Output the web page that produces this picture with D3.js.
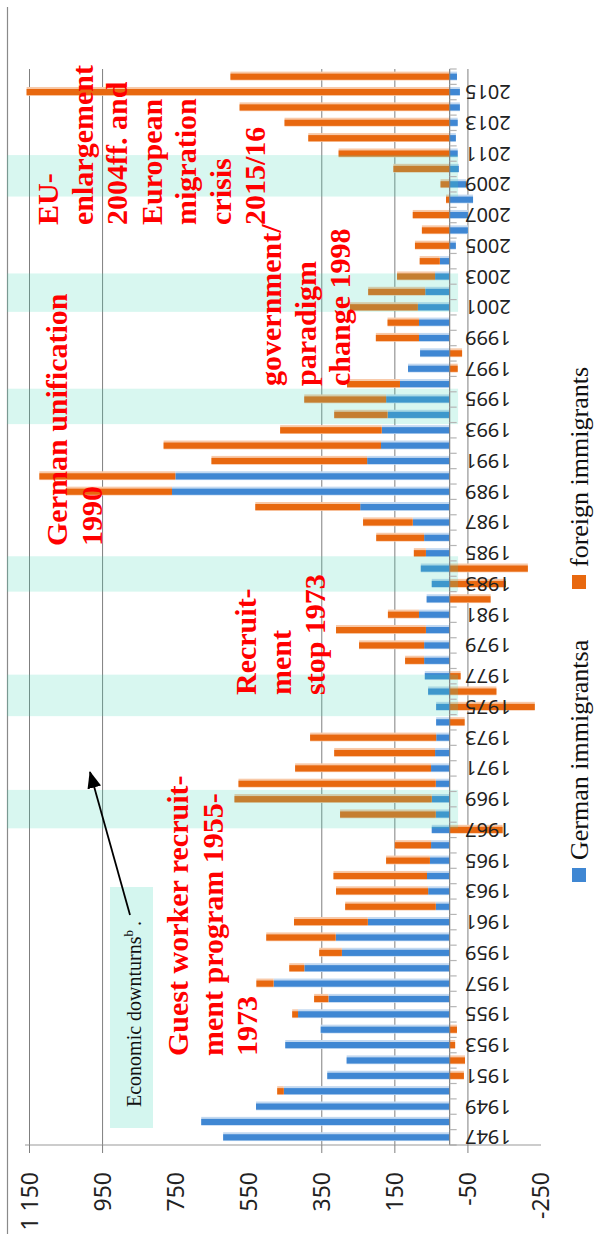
<!DOCTYPE html>
<html>
<head>
<meta charset="utf-8">
<title>Net migration Germany 1947-2016</title>
<script src="https://cdn.jsdelivr.net/npm/d3@7"></script>
<style>
  body { margin: 0; background: #fff; }
  .axis-label { font-family: "Noto Sans", sans-serif; font-size: 23px; fill: #222; }
  .year-label { font-family: "Noto Sans", sans-serif; font-size: 20px; fill: #222; }
  .note { font-family: "Liberation Serif", "Times New Roman", serif; font-weight: bold; font-size: 30px; fill: #f00; }
  .legend { font-family: "Liberation Serif", "Times New Roman", serif; font-size: 26px; fill: #111; }
  .box-text { font-family: "Liberation Serif", "Times New Roman", serif; font-size: 20px; fill: #111; }
</style>
</head>
<body>
<div id="chart"></div>
<script>
// net migration, thousands
const years = d3.range(1947, 2017);
const germanImmigrants = [
  620, 680, 530, 454, 335, 282, 450, 353, 415, 332,
  482, 398, 295, 312, 224, 38, 59, 62, 54, 51,
  49, 38, 49, 38, 51, 40, 37, 37, 37, 59,
  68, 70, 70, 65, 84, 63, 49, 79, 65, 70,
  101, 245, 760, 751, 226, 188, 186, 170, 174, 136,
  114, 81, 84, 84, 87, 67, 40, 27, -17, -50,
  -50, -64, -45, -25, -22, -17, -22, -28, -28, -20
];
const foreignImmigrants = [
  0, 0, 0, 18, -39, -42, -15, -20, 16, 39,
  47, 41, 62, 190, 202, 248, 252, 256, 120, 99,
  -145, 262, 540, 540, 372, 276, 345, -41, -233, -128,
  -30, 52, 178, 246, 85, -112, -154, -214, 33, 131,
  136, 287, 290, 372, 426, 595, 278, 146, 224, 145,
  -22, -34, 118, 86, 186, 156, 104, 55, 95, 76,
  101, 10, 25, 154, 304, 387, 452, 575, 1158, 600
];
const valueLabels = [1150, 950, 750, 550, 350, 150, -50, -250];
const gridValues = [1150, 950, 350, 150, -50];
// economic downturn periods (year positions)
const downturns = [[1967.1, 1969.6], [1974.4, 1977.1], [1982.5, 1984.8],
                   [1993.4, 1995.7], [2000.7, 2003.2], [2008.2, 2010.9]];
const noteLines = [
  ["Guest worker recruit-", "ment program 1955-", "1973"],
  ["Recruit-", "ment", "stop 1973"],
  ["German unification", "1990"],
  ["government/", "paradigm", "change 1998"],
  ["EU-", "enlargement", "2004ff. and", "European", "migration", "crisis", "2015/16"]
];
const seriesNames = ["German immigrantsa", "foreign immigrants"];

const W = 603, H = 1234;
const colors = { german: "#3f87d3", foreign: "#e8680f" };
const halo = { german: "#c3d9f1", foreign: "#f8c9a8" };

const svg = d3.select("#chart").append("svg")
  .attr("width", W)
  .attr("height", H);

// the chart is drawn as a normal column chart, then turned 90deg counter-clockwise
const g = svg.append("g")
  .attr("transform", `translate(0,${H}) rotate(-90)`);

const x = d3.scaleBand().domain(years).range([89, 1165])
  .paddingInner(0.6).paddingOuter(0.3);
const y = d3.scaleLinear().domain([-250, 1150]).range([541, 29.5]);
const bw = x.bandwidth();
const yearPos = yr => x(years[0]) + bw / 2 + (yr - years[0]) * x.step();

const fmt = d3.formatLocale({ decimal: ".", thousands: " ", grouping: [3], currency: ["", ""], minus: "-" }).format(",");

// chart border
g.append("line")
  .attr("x1", 0).attr("x2", H - 7).attr("y1", 7.5).attr("y2", 7.5)
  .attr("stroke", "#8a8a8a").attr("stroke-width", 1.2);

// gridlines
g.append("g").selectAll("line")
  .data(gridValues)
  .enter().append("line")
  .attr("x1", 89).attr("x2", 1165)
  .attr("y1", d => y(d)).attr("y2", d => y(d))
  .attr("stroke", "#7f7f7f").attr("stroke-width", 1);

// bars
const data = years.map((yr, i) => ({ year: yr, german: germanImmigrants[i], foreign: foreignImmigrants[i] }));
const series = d3.stack().keys(["german", "foreign"]).offset(d3.stackOffsetDiverging)(data);

const barG = g.append("g");
series.forEach(s => {
  const grp = barG.append("g");
  const segs = s.filter(d => d[1] !== d[0]);
  grp.selectAll("rect.halo")
    .data(segs)
    .enter().append("rect")
    .attr("class", "halo")
    .attr("x", d => x(d.data.year) - 0.7)
    .attr("width", bw + 2.7)
    .attr("y", d => y(Math.max(d[0], d[1])))
    .attr("height", d => Math.abs(y(d[0]) - y(d[1])))
    .attr("fill", halo[s.key]);
  grp.selectAll("rect.bar")
    .data(segs)
    .enter().append("rect")
    .attr("class", "bar")
    .attr("x", d => x(d.data.year))
    .attr("width", bw)
    .attr("y", d => y(Math.max(d[0], d[1])))
    .attr("height", d => Math.abs(y(d[0]) - y(d[1])))
    .attr("fill", colors[s.key]);
});

// economic downturn bands (translucent overlay)
g.append("g").selectAll("rect")
  .data(downturns)
  .enter().append("rect")
  .attr("x", d => yearPos(d[0]))
  .attr("width", d => yearPos(d[1]) - yearPos(d[0]))
  .attr("y", 7)
  .attr("height", y(-23) - 7)
  .attr("fill", "#3cd6b4")
  .attr("fill-opacity", 0.2);

// category axis at zero
g.append("line")
  .attr("x1", 89).attr("x2", 1165)
  .attr("y1", y(0)).attr("y2", y(0))
  .attr("stroke", "#808080").attr("stroke-width", 1.2);
g.append("g").selectAll("line")
  .data(d3.range(years.length + 1))
  .enter().append("line")
  .attr("x1", i => x(years[0]) - x.step() * 0.3 + i * x.step())
  .attr("x2", i => x(years[0]) - x.step() * 0.3 + i * x.step())
  .attr("y1", y(0)).attr("y2", y(0) + 7)
  .attr("stroke", "#b5b5b5").attr("stroke-width", 1.2);

// value axis
g.append("line")
  .attr("x1", 89).attr("x2", 89)
  .attr("y1", 25).attr("y2", y(-250))
  .attr("stroke", "#9a9a9a").attr("stroke-width", 1.2);
g.append("g").selectAll("line")
  .data(gridValues)
  .enter().append("line")
  .attr("x1", 81).attr("x2", 89)
  .attr("y1", d => y(d)).attr("y2", d => y(d))
  .attr("stroke", "#7f7f7f");
g.append("g").selectAll("text")
  .data(valueLabels)
  .enter().append("text")
  .attr("class", "axis-label")
  .attr("x", 62)
  .attr("y", d => y(d))
  .attr("dy", "0.35em")
  .attr("text-anchor", "end")
  .text(d => fmt(d));

// year labels
g.append("g").selectAll("text")
  .data(years.filter(yr => yr % 2 === 1))
  .enter().append("text")
  .attr("class", "year-label")
  .attr("transform", d => `translate(${x(d) + bw / 2},465) rotate(-90)`)
  .attr("dy", "0.35em")
  .attr("text-anchor", "end")
  .text(d => d);

// legend
const legendPos = [374, 667];
seriesNames.forEach((name, i) => {
  const key = i === 0 ? "german" : "foreign";
  g.append("rect")
    .attr("x", legendPos[i] - 22).attr("y", 572)
    .attr("width", 14).attr("height", 14)
    .attr("fill", colors[key]);
  g.append("text")
    .attr("class", "legend")
    .attr("x", legendPos[i]).attr("y", 588)
    .text(name);
});

// annotations
const notePos = [[178, 188], [539, 256], [688, 67], [848, 281], [1009, 58]];
noteLines.forEach((lines, i) => {
  const t = g.append("text").attr("class", "note");
  lines.forEach((line, j) => {
    t.append("tspan")
      .attr("x", notePos[i][0])
      .attr("y", notePos[i][1] + j * 34.5)
      .text(line);
  });
});

// economic downturns key box
g.append("rect")
  .attr("x", 106).attr("y", 110)
  .attr("width", 241).attr("height", 43)
  .attr("fill", "#3cd6b4").attr("fill-opacity", 0.22);
const bt = g.append("text").attr("class", "box-text").attr("x", 127).attr("y", 141);
bt.append("tspan").text("Economic downturns");
bt.append("tspan").attr("font-size", "13px").attr("dy", -8).text("b");
bt.append("tspan").attr("dy", 8).attr("dx", 4).text(".");

// arrow
svg.append("defs").append("marker")
  .attr("id", "head")
  .attr("markerUnits", "userSpaceOnUse")
  .attr("markerWidth", 17).attr("markerHeight", 14)
  .attr("refX", 16).attr("refY", 7)
  .attr("orient", "auto")
  .append("path")
  .attr("d", "M0,0 L17,7 L0,14 Z")
  .attr("fill", "#000");
g.append("line")
  .attr("x1", 319).attr("y1", 130)
  .attr("x2", 462).attr("y2", 90)
  .attr("stroke", "#000").attr("stroke-width", 1.8)
  .attr("marker-end", "url(#head)");
</script>
</body>
</html>
